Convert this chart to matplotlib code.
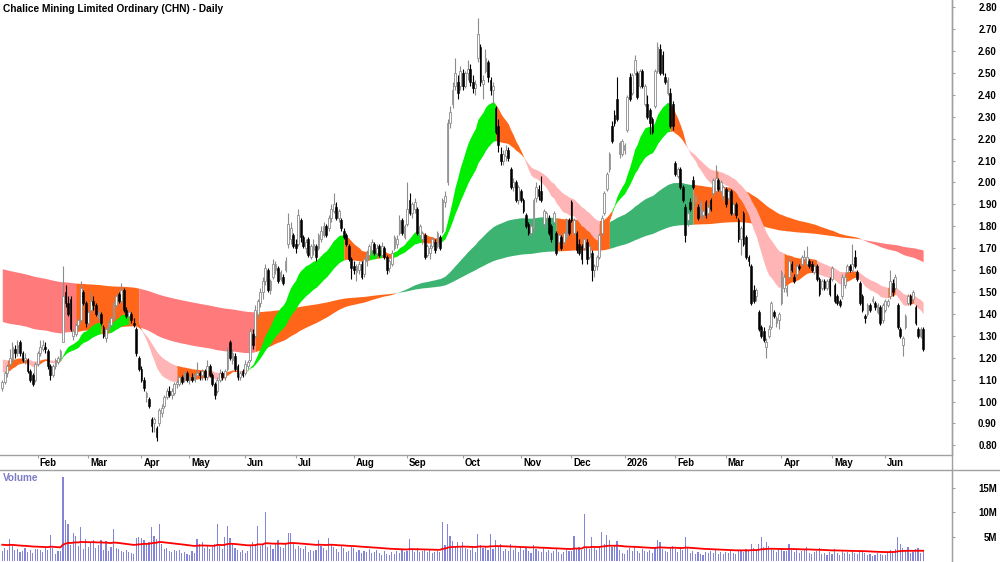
import numpy as np
import pandas as pd
import matplotlib
matplotlib.use('Agg')
import matplotlib.pyplot as plt
from matplotlib.lines import Line2D

plt.rcParams['font.family'] = ['Liberation Sans', 'DejaVu Sans']

TITLE = 'Chalice Mining Limited Ordinary (CHN) - Daily'
START = '2025-01-13'
ASX_HOLIDAYS = ['2025-01-27', '2025-04-18', '2025-04-21', '2025-04-25', '2025-06-09',
                '2025-12-25', '2025-12-26', '2026-01-01', '2026-01-26', '2026-04-03',
                '2026-04-06', '2026-06-08']

# one row per trading day: (open, high, low, close, volume in millions)
jan25 = [(1.06, 1.10, 1.05, 1.09, 2.1), (1.09, 1.14, 1.08, 1.13, 2.6), (1.13, 1.17, 1.11, 1.16, 2.3),
         (1.17, 1.24, 1.16, 1.20, 4.6), (1.19, 1.27, 1.18, 1.25, 3.0), (1.24, 1.26, 1.20, 1.22, 2.2),
         (1.22, 1.28, 1.21, 1.26, 2.5), (1.27, 1.28, 1.21, 1.22, 1.8), (1.22, 1.23, 1.18, 1.19, 2.0),
         (1.19, 1.22, 1.17, 1.20, 2.7), (1.19, 1.20, 1.13, 1.14, 1.9), (1.14, 1.15, 1.09, 1.10, 2.2),
         (1.12, 1.13, 1.07, 1.08, 1.7), (1.10, 1.18, 1.09, 1.17, 2.4)]
feb25 = [(1.17, 1.23, 1.16, 1.22, 2.5), (1.22, 1.28, 1.21, 1.25, 2.2), (1.24, 1.28, 1.23, 1.26, 1.9),
         (1.25, 1.27, 1.22, 1.24, 2.8), (1.23, 1.24, 1.15, 1.16, 2.3), (1.16, 1.17, 1.10, 1.12, 5.3),
         (1.12, 1.17, 1.11, 1.16, 2.6), (1.16, 1.20, 1.15, 1.19, 1.5), (1.18, 1.21, 1.17, 1.20, 2.1),
         (1.20, 1.24, 1.19, 1.23, 2.0), (1.27, 1.62, 1.27, 1.48, 17.2), (1.50, 1.53, 1.43, 1.45, 8.4),
         (1.45, 1.48, 1.39, 1.40, 7.6), (1.47, 1.48, 1.32, 1.33, 3.2), (1.30, 1.33, 1.28, 1.32, 5.7),
         (1.31, 1.36, 1.30, 1.35, 5.2), (1.35, 1.38, 1.33, 1.37, 3.0), (1.37, 1.55, 1.36, 1.52, 7.1),
         (1.50, 1.51, 1.44, 1.45, 2.5), (1.45, 1.46, 1.34, 1.36, 4.6)]
mar25 = [(1.36, 1.42, 1.35, 1.41, 2.9), (1.42, 1.50, 1.41, 1.46, 3.8), (1.46, 1.48, 1.42, 1.44, 4.4),
         (1.44, 1.45, 1.39, 1.40, 2.7), (1.38, 1.42, 1.37, 1.41, 3.3), (1.40, 1.41, 1.35, 1.36, 4.4),
         (1.34, 1.35, 1.29, 1.30, 2.3), (1.29, 1.34, 1.27, 1.33, 4.2), (1.33, 1.37, 1.32, 1.36, 2.0),
         (1.35, 1.39, 1.34, 1.38, 2.9), (1.38, 1.46, 1.37, 1.45, 6.5), (1.44, 1.49, 1.43, 1.48, 2.7),
         (1.49, 1.50, 1.45, 1.46, 2.5), (1.46, 1.54, 1.45, 1.51, 2.1), (1.51, 1.52, 1.41, 1.42, 1.9),
         (1.42, 1.43, 1.38, 1.39, 2.3), (1.39, 1.42, 1.38, 1.41, 1.8), (1.40, 1.41, 1.36, 1.37, 1.6),
         (1.36, 1.38, 1.34, 1.35, 1.4), (1.33, 1.34, 1.21, 1.22, 4.8), (1.20, 1.21, 1.14, 1.15, 5.0)]
apr25 = [(1.15, 1.16, 1.09, 1.10, 4.8), (1.10, 1.11, 1.05, 1.06, 4.4), (1.02, 1.05, 1.00, 1.04, 3.5),
         (1.01, 1.02, 0.97, 0.98, 3.9), (0.92, 0.93, 0.86, 0.89, 6.9), (0.90, 0.93, 0.86, 0.92, 5.2),
         (0.88, 0.89, 0.82, 0.84, 4.6), (0.90, 0.97, 0.89, 0.96, 7.6), (0.95, 0.99, 0.93, 0.97, 3.4),
         (0.98, 1.03, 0.97, 1.02, 2.4), (1.02, 1.06, 1.01, 1.05, 2.7), (1.05, 1.07, 1.02, 1.03, 2.1),
         (1.03, 1.06, 1.01, 1.05, 1.9), (1.04, 1.09, 1.03, 1.08, 2.3), (1.08, 1.10, 1.06, 1.09, 2.0),
         (1.08, 1.12, 1.07, 1.11, 2.2), (1.11, 1.12, 1.08, 1.09, 1.7), (1.10, 1.14, 1.09, 1.13, 1.9),
         (1.13, 1.14, 1.09, 1.10, 1.5)]
may25 = [(1.10, 1.12, 1.08, 1.11, 1.3), (1.11, 1.13, 1.09, 1.10, 2.0), (1.10, 1.13, 1.09, 1.12, 1.6),
         (1.12, 1.18, 1.11, 1.13, 4.6), (1.13, 1.14, 1.10, 1.12, 3.6), (1.12, 1.15, 1.10, 1.14, 3.9),
         (1.14, 1.15, 1.10, 1.11, 2.6), (1.11, 1.19, 1.10, 1.16, 3.1), (1.16, 1.17, 1.11, 1.12, 2.4),
         (1.12, 1.13, 1.07, 1.08, 2.8), (1.08, 1.09, 1.01, 1.03, 3.4), (1.05, 1.11, 1.04, 1.10, 7.6),
         (1.10, 1.15, 1.09, 1.13, 3.1), (1.13, 1.14, 1.10, 1.11, 2.4), (1.11, 1.15, 1.10, 1.14, 5.0),
         (1.15, 1.25, 1.14, 1.23, 7.3), (1.27, 1.28, 1.19, 1.20, 4.7), (1.19, 1.24, 1.17, 1.22, 3.4),
         (1.21, 1.22, 1.14, 1.15, 2.6), (1.16, 1.17, 1.10, 1.11, 2.2), (1.11, 1.14, 1.10, 1.13, 1.9),
         (1.14, 1.15, 1.11, 1.12, 2.3)]
jun25 = [(1.13, 1.19, 1.12, 1.17, 1.7), (1.16, 1.19, 1.15, 1.18, 2.1), (1.19, 1.34, 1.18, 1.32, 3.1),
         (1.31, 1.33, 1.24, 1.26, 4.0), (1.30, 1.44, 1.29, 1.42, 3.5), (1.40, 1.47, 1.38, 1.46, 7.3),
         (1.45, 1.52, 1.43, 1.50, 3.0), (1.50, 1.57, 1.47, 1.55, 3.5), (1.55, 1.63, 1.53, 1.61, 10.0),
         (1.60, 1.61, 1.50, 1.51, 2.9), (1.51, 1.56, 1.49, 1.55, 3.2), (1.57, 1.65, 1.56, 1.63, 2.4),
         (1.60, 1.64, 1.58, 1.63, 3.8), (1.61, 1.62, 1.54, 1.55, 4.3), (1.56, 1.60, 1.55, 1.59, 2.8),
         (1.57, 1.58, 1.53, 1.54, 2.6), (1.60, 1.66, 1.59, 1.64, 3.7), (1.72, 1.86, 1.70, 1.81, 5.8),
         (1.74, 1.82, 1.72, 1.79, 5.7), (1.76, 1.77, 1.70, 1.71, 3.4)]
jul25 = [(1.72, 1.74, 1.68, 1.70, 2.5), (1.72, 1.88, 1.71, 1.85, 3.0), (1.83, 1.84, 1.73, 1.75, 2.7),
         (1.75, 1.76, 1.70, 1.71, 2.5), (1.70, 1.74, 1.68, 1.73, 3.1), (1.74, 1.75, 1.66, 1.67, 1.8),
         (1.66, 1.72, 1.65, 1.71, 2.2), (1.69, 1.74, 1.67, 1.72, 2.0), (1.71, 1.72, 1.64, 1.66, 2.3),
         (1.70, 1.77, 1.69, 1.76, 4.3), (1.74, 1.80, 1.73, 1.78, 3.1), (1.76, 1.82, 1.75, 1.80, 2.7),
         (1.80, 1.81, 1.75, 1.76, 2.2), (1.79, 1.85, 1.78, 1.84, 4.8), (1.84, 1.90, 1.82, 1.88, 3.6),
         (1.87, 1.95, 1.86, 1.90, 2.9), (1.89, 1.91, 1.83, 1.84, 2.4), (1.84, 1.88, 1.82, 1.87, 1.9),
         (1.83, 1.84, 1.78, 1.79, 3.0), (1.78, 1.79, 1.74, 1.75, 2.6), (1.76, 1.77, 1.71, 1.72, 1.8),
         (1.71, 1.72, 1.64, 1.65, 2.1), (1.65, 1.66, 1.56, 1.61, 2.8)]
aug25 = [(1.62, 1.64, 1.58, 1.60, 2.6), (1.59, 1.63, 1.55, 1.62, 1.9), (1.60, 1.64, 1.58, 1.63, 2.2),
         (1.63, 1.64, 1.56, 1.57, 1.7), (1.58, 1.66, 1.57, 1.65, 2.0), (1.64, 1.69, 1.62, 1.68, 1.8),
         (1.67, 1.72, 1.65, 1.71, 2.4), (1.69, 1.74, 1.67, 1.73, 1.6), (1.72, 1.73, 1.67, 1.68, 1.9),
         (1.68, 1.72, 1.66, 1.70, 2.3), (1.71, 1.72, 1.66, 1.67, 1.7), (1.67, 1.73, 1.66, 1.71, 1.3),
         (1.70, 1.71, 1.65, 1.66, 2.1), (1.66, 1.67, 1.58, 1.60, 1.5), (1.61, 1.65, 1.59, 1.64, 1.2),
         (1.63, 1.69, 1.62, 1.68, 1.9), (1.70, 1.76, 1.69, 1.75, 1.4), (1.72, 1.76, 1.70, 1.74, 2.0),
         (1.77, 1.85, 1.76, 1.83, 1.6), (1.83, 1.84, 1.76, 1.77, 2.2), (1.75, 1.81, 1.74, 1.80, 1.8)]
sep25 = [(1.81, 2.00, 1.80, 1.88, 2.1), (1.92, 1.95, 1.85, 1.86, 4.5), (1.86, 1.91, 1.84, 1.90, 2.3),
         (1.88, 1.93, 1.86, 1.91, 1.9), (1.88, 1.89, 1.76, 1.77, 2.7), (1.76, 1.81, 1.74, 1.80, 1.8),
         (1.74, 1.78, 1.72, 1.77, 2.0), (1.76, 1.77, 1.65, 1.66, 2.5), (1.67, 1.72, 1.66, 1.71, 1.8),
         (1.68, 1.72, 1.65, 1.70, 2.2), (1.71, 1.75, 1.70, 1.74, 1.7), (1.73, 1.74, 1.68, 1.69, 1.9),
         (1.71, 1.78, 1.70, 1.77, 2.0), (1.75, 1.76, 1.69, 1.70, 1.9), (1.78, 1.93, 1.77, 1.92, 8.0),
         (1.91, 1.96, 1.89, 1.94, 3.2), (2.00, 2.29, 1.99, 2.27, 7.6), (2.27, 2.35, 2.25, 2.32, 5.2),
         (2.36, 2.46, 2.34, 2.42, 4.2), (2.44, 2.57, 2.42, 2.50, 3.1), (2.46, 2.49, 2.38, 2.41, 4.0),
         (2.44, 2.53, 2.42, 2.51, 2.6)]
oct25 = [(2.50, 2.52, 2.42, 2.44, 4.0), (2.44, 2.51, 2.43, 2.50, 2.7), (2.50, 2.56, 2.47, 2.52, 2.4),
         (2.52, 2.54, 2.44, 2.46, 2.2), (2.46, 2.49, 2.41, 2.43, 2.8), (2.43, 2.47, 2.40, 2.45, 1.9),
         (2.57, 2.75, 2.55, 2.68, 5.6), (2.62, 2.63, 2.44, 2.46, 3.3), (2.45, 2.49, 2.38, 2.47, 2.6),
         (2.51, 2.61, 2.50, 2.57, 3.0), (2.55, 2.56, 2.46, 2.48, 2.2), (2.47, 2.48, 2.40, 2.42, 5.6),
         (2.42, 2.46, 2.36, 2.44, 2.4), (2.34, 2.35, 2.22, 2.23, 4.3), (2.26, 2.29, 2.14, 2.17, 3.0),
         (2.13, 2.16, 2.08, 2.10, 3.5), (2.10, 2.15, 2.08, 2.13, 2.1), (2.12, 2.17, 2.10, 2.15, 2.5),
         (2.15, 2.16, 2.10, 2.11, 2.0), (2.06, 2.07, 1.97, 1.98, 3.4), (1.98, 2.02, 1.96, 2.00, 2.2),
         (2.00, 2.01, 1.91, 1.92, 2.6), (1.92, 1.99, 1.90, 1.98, 1.8)]
nov25 = [(1.96, 1.97, 1.91, 1.92, 2.9), (1.92, 1.93, 1.86, 1.87, 2.3), (1.85, 1.86, 1.79, 1.80, 2.6),
         (1.81, 1.82, 1.76, 1.77, 2.0), (1.77, 1.81, 1.75, 1.80, 1.7), (1.79, 1.93, 1.78, 1.92, 3.3),
         (1.93, 2.00, 1.91, 1.98, 2.5), (1.97, 1.99, 1.92, 1.94, 2.1), (1.96, 2.03, 1.91, 1.92, 1.8),
         (1.81, 1.88, 1.79, 1.87, 2.7), (1.84, 1.87, 1.82, 1.86, 1.9), (1.84, 1.85, 1.76, 1.77, 2.2),
         (1.80, 1.81, 1.73, 1.74, 1.6), (1.82, 1.87, 1.81, 1.86, 2.0), (1.77, 1.78, 1.67, 1.68, 2.4),
         (1.73, 1.77, 1.72, 1.76, 1.8), (1.75, 1.76, 1.69, 1.70, 1.5), (1.73, 1.78, 1.72, 1.77, 1.9),
         (1.75, 1.84, 1.74, 1.83, 2.3), (1.83, 1.84, 1.76, 1.77, 2.1)]
dec25 = [(1.91, 1.92, 1.82, 1.83, 2.0), (1.77, 1.84, 1.76, 1.83, 5.1), (1.77, 1.78, 1.68, 1.69, 2.6),
         (1.72, 1.74, 1.67, 1.68, 2.9), (1.71, 1.72, 1.63, 1.65, 2.2), (1.70, 1.75, 1.69, 1.74, 9.6),
         (1.73, 1.74, 1.63, 1.65, 2.7), (1.66, 1.72, 1.65, 1.71, 2.4), (1.68, 1.69, 1.55, 1.60, 4.9),
         (1.60, 1.63, 1.57, 1.62, 2.6), (1.62, 1.67, 1.60, 1.66, 2.3), (1.66, 1.77, 1.65, 1.76, 3.1),
         (1.77, 1.85, 1.76, 1.84, 5.9), (1.86, 1.96, 1.85, 1.95, 3.4), (1.97, 2.05, 1.96, 2.04, 5.4),
         (2.06, 2.14, 2.05, 2.13, 4.3), (2.26, 2.28, 2.18, 2.19, 2.8), (2.31, 2.33, 2.26, 2.27, 3.0),
         (2.38, 2.48, 2.28, 2.29, 4.1), (2.13, 2.19, 2.11, 2.18, 2.2), (2.13, 2.20, 2.12, 2.19, 1.6)]
jan26 = [(2.15, 2.18, 2.13, 2.17, 1.4), (2.24, 2.40, 2.23, 2.39, 2.3), (2.48, 2.50, 2.37, 2.38, 2.6),
         (2.41, 2.50, 2.40, 2.49, 2.0), (2.50, 2.58, 2.49, 2.56, 2.8), (2.50, 2.51, 2.38, 2.39, 2.1),
         (2.44, 2.52, 2.43, 2.51, 1.7), (2.51, 2.52, 2.43, 2.44, 2.4), (2.36, 2.45, 2.35, 2.44, 2.0),
         (2.36, 2.40, 2.29, 2.30, 1.8), (2.33, 2.34, 2.22, 2.27, 2.3), (2.29, 2.30, 2.22, 2.23, 1.6),
         (2.35, 2.52, 2.34, 2.51, 2.9), (2.51, 2.64, 2.50, 2.62, 4.3), (2.61, 2.63, 2.49, 2.50, 3.9),
         (2.58, 2.60, 2.49, 2.50, 2.4), (2.48, 2.50, 2.45, 2.46, 2.0), (2.41, 2.48, 2.40, 2.47, 1.9),
         (2.41, 2.43, 2.25, 2.26, 2.8), (2.36, 2.37, 2.24, 2.26, 3.0)]
feb26 = [(2.09, 2.10, 2.03, 2.04, 2.5), (2.03, 2.07, 2.02, 2.06, 1.8), (2.06, 2.07, 1.97, 1.98, 2.6),
         (1.98, 1.99, 1.91, 1.92, 2.2), (1.89, 1.90, 1.73, 1.76, 4.9), (1.83, 1.87, 1.80, 1.86, 2.7),
         (1.91, 1.93, 1.87, 1.88, 1.6), (2.01, 2.03, 1.97, 1.98, 2.1), (1.91, 1.95, 1.89, 1.94, 1.4),
         (1.89, 1.90, 1.83, 1.84, 1.8), (1.85, 1.92, 1.84, 1.91, 1.5), (1.85, 1.88, 1.83, 1.87, 1.3),
         (1.91, 1.92, 1.84, 1.85, 1.9), (1.86, 1.90, 1.85, 1.89, 1.6), (1.92, 1.93, 1.87, 1.88, 2.0),
         (1.95, 2.02, 1.94, 2.01, 1.7), (1.96, 2.08, 1.95, 2.02, 2.2), (2.01, 2.02, 1.96, 1.97, 1.5),
         (1.96, 2.01, 1.95, 2.00, 1.8), (1.94, 1.99, 1.92, 1.98, 1.4)]
mar26 = [(1.97, 1.98, 1.89, 1.90, 1.9), (1.93, 1.97, 1.92, 1.96, 1.6), (1.96, 1.97, 1.85, 1.86, 2.0),
         (1.86, 1.91, 1.85, 1.90, 1.7), (1.90, 1.91, 1.84, 1.85, 1.5), (1.83, 1.84, 1.73, 1.74, 2.3),
         (1.74, 1.80, 1.67, 1.79, 2.1), (1.86, 1.87, 1.71, 1.72, 1.8), (1.75, 1.76, 1.65, 1.66, 2.4),
         (1.66, 1.67, 1.62, 1.64, 2.2), (1.62, 1.63, 1.44, 1.45, 3.4), (1.51, 1.53, 1.45, 1.46, 2.6),
         (1.48, 1.52, 1.46, 1.51, 2.3), (1.41, 1.42, 1.32, 1.33, 3.6), (1.34, 1.35, 1.29, 1.30, 5.0),
         (1.32, 1.34, 1.27, 1.28, 2.9), (1.25, 1.29, 1.20, 1.27, 4.0), (1.30, 1.35, 1.29, 1.33, 3.1),
         (1.34, 1.46, 1.33, 1.45, 2.7), (1.41, 1.42, 1.38, 1.39, 2.2), (1.36, 1.39, 1.34, 1.38, 1.8),
         (1.37, 1.41, 1.33, 1.40, 2.4)]
apr26 = [(1.45, 1.60, 1.44, 1.59, 2.6), (1.52, 1.58, 1.50, 1.57, 2.1), (1.50, 1.53, 1.48, 1.52, 2.0),
         (1.57, 1.66, 1.56, 1.64, 3.5), (1.63, 1.64, 1.59, 1.60, 2.3), (1.57, 1.58, 1.54, 1.55, 1.8),
         (1.58, 1.63, 1.57, 1.62, 2.2), (1.62, 1.63, 1.60, 1.61, 1.6), (1.63, 1.67, 1.62, 1.66, 2.0),
         (1.65, 1.69, 1.64, 1.66, 2.4), (1.63, 1.71, 1.62, 1.66, 2.8), (1.64, 1.65, 1.61, 1.62, 1.7),
         (1.63, 1.64, 1.59, 1.60, 1.5), (1.59, 1.63, 1.58, 1.62, 1.9), (1.62, 1.63, 1.55, 1.56, 2.1),
         (1.56, 1.57, 1.48, 1.49, 2.6), (1.52, 1.56, 1.51, 1.55, 1.4), (1.55, 1.56, 1.51, 1.52, 1.6),
         (1.52, 1.56, 1.51, 1.55, 1.2), (1.56, 1.57, 1.48, 1.49, 1.8)]
may26 = [(1.56, 1.62, 1.55, 1.61, 1.5), (1.53, 1.54, 1.45, 1.46, 2.4), (1.48, 1.49, 1.44, 1.45, 1.7),
         (1.46, 1.47, 1.43, 1.44, 1.3), (1.48, 1.58, 1.47, 1.57, 2.0), (1.53, 1.58, 1.52, 1.57, 1.6),
         (1.59, 1.63, 1.58, 1.62, 1.8), (1.62, 1.63, 1.59, 1.60, 1.4), (1.60, 1.72, 1.59, 1.63, 2.2),
         (1.66, 1.69, 1.61, 1.62, 1.7), (1.59, 1.60, 1.55, 1.56, 1.5), (1.54, 1.55, 1.44, 1.45, 2.3),
         (1.48, 1.49, 1.41, 1.42, 1.9), (1.39, 1.40, 1.36, 1.38, 1.6), (1.40, 1.45, 1.39, 1.44, 1.2),
         (1.44, 1.45, 1.41, 1.42, 1.5), (1.46, 1.48, 1.45, 1.47, 1.1), (1.45, 1.46, 1.42, 1.43, 1.3),
         (1.41, 1.45, 1.40, 1.44, 1.6), (1.43, 1.44, 1.35, 1.36, 1.4), (1.37, 1.45, 1.36, 1.44, 1.2)]
jun26 = [(1.42, 1.47, 1.41, 1.46, 1.3), (1.44, 1.47, 1.43, 1.46, 1.8), (1.48, 1.60, 1.47, 1.55, 2.2),
         (1.54, 1.56, 1.48, 1.50, 1.9), (1.52, 1.58, 1.51, 1.57, 2.4), (1.44, 1.45, 1.33, 1.34, 4.9),
         (1.33, 1.34, 1.29, 1.30, 3.6), (1.26, 1.30, 1.21, 1.29, 2.6), (1.34, 1.40, 1.33, 1.39, 2.3),
         (1.45, 1.49, 1.44, 1.48, 2.8), (1.48, 1.49, 1.44, 1.45, 1.7), (1.47, 1.51, 1.45, 1.50, 1.9),
         (1.43, 1.44, 1.35, 1.36, 2.5), (1.33, 1.34, 1.29, 1.30, 2.7), (1.30, 1.34, 1.29, 1.33, 1.6),
         (1.33, 1.34, 1.23, 1.24, 2.2)]

months = [jan25, feb25, mar25, apr25, may25, jun25, jul25, aug25, sep25, oct25, nov25, dec25,
          jan26, feb26, mar26, apr26, may26, jun26]

# moving average ribbons: EMA spans (fast, slow) and their values on the first day of the chart
SHORT_SPANS = (20, 40)
SHORT_START = (1.14, 1.20)
SHORT_SLOPE_DAYS = 3
LONG_SPANS = (130, 300)
LONG_START = (1.37, 1.61)
LONG_SLOPE_DAYS = 10
VOL_SPAN = 50
VOL_START = 3.4

SHORT_COLORS = ['#00ee00', '#ff661a', '#ffb5b5']
LONG_COLORS = ['#3cb371', '#ff661a', '#ff7b7b']
GRID_GREY = '#a0a0a0'


def ema(values, span, start):
    a = 2.0 / (span + 1)
    out = np.empty(len(values))
    prev = start
    for i, v in enumerate(values):
        prev = prev + a * (v - prev)
        out[i] = prev
    return out


def slope(values, start, k):
    ext = np.r_[[start] * k, values]
    return ext[k:] - ext[:-k]


def draw_ribbon(ax, x, fast, slow, start, k, colors, z):
    # green: fast above slow and both rising, pink: fast below and both falling, else orange
    d_fast = slope(fast, start[0], k)
    d_slow = slope(slow, start[1], k)
    up = (fast > slow) & (d_fast > 0) & (d_slow > 0)
    down = (fast < slow) & (d_fast < 0) & (d_slow < 0)
    state = np.where(up, 0, np.where(down, 2, 1))
    lo_edge = np.minimum(fast, slow)
    hi_edge = np.maximum(fast, slow)
    breaks = np.flatnonzero(np.diff(state)) + 1
    starts = np.r_[0, breaks]
    ends = np.r_[breaks, len(x)]
    for s, e in zip(starts, ends):
        s0 = max(s - 1, 0)
        ax.fill_between(x[s0:e], lo_edge[s0:e], hi_edge[s0:e], color=colors[state[s]],
                        lw=0, zorder=z)


rows = np.array([r for m in months for r in m])
op, hi, lo, cl, vol = rows.T
n = len(cl)
x = np.arange(n)
dates = pd.bdate_range(START, periods=n, freq='C', holidays=ASX_HOLIDAYS)

fig = plt.figure(figsize=(10, 5.62), dpi=100)
ax = fig.add_axes([0, 1 - 455 / 562, 0.9517, 455 / 562])
vax = fig.add_axes([0, 0, 0.9517, 92 / 562])

# ribbons under the candles
draw_ribbon(ax, x, ema(cl, LONG_SPANS[0], LONG_START[0]), ema(cl, LONG_SPANS[1], LONG_START[1]),
            LONG_START, LONG_SLOPE_DAYS, LONG_COLORS, 1)
draw_ribbon(ax, x, ema(cl, SHORT_SPANS[0], SHORT_START[0]), ema(cl, SHORT_SPANS[1], SHORT_START[1]),
            SHORT_START, SHORT_SLOPE_DAYS, SHORT_COLORS, 2)

# candles
up = cl >= op
dn = ~up
ax.vlines(x[up], lo[up], hi[up], color='#8c8c8c', lw=0.8, zorder=3)
ax.vlines(x[dn], lo[dn], hi[dn], color='black', lw=0.8, zorder=3)
ax.bar(x[up], np.maximum(cl - op, 0.004)[up], bottom=op[up], width=0.7, color='white',
       edgecolor='#8c8c8c', lw=0.6, zorder=4)
ax.bar(x[dn], (op - cl)[dn], bottom=cl[dn], width=0.7, color='black', edgecolor='black',
       lw=0.4, zorder=4)

ax.set_xlim(-0.9, 375.3)
ax.set_ylim(0.756, 2.833)
ax.yaxis.tick_right()
ax.set_yticks(np.arange(0.8, 2.81, 0.1))
ax.set_yticklabels(['%.2f' % v for v in np.arange(0.8, 2.81, 0.1)])
ax.tick_params(axis='y', direction='out', length=2, width=0.8, color=GRID_GREY,
               labelsize=6.9, pad=30.5)
for lbl in ax.get_yticklabels():
    lbl.set_horizontalalignment('right')
    lbl.set_fontweight('bold')

# month ticks along the strip under the price panel
month_start = [i for i in range(1, n) if dates[i].month != dates[i - 1].month]
month_names = [str(dates[i].year) if dates[i].month == 1 else dates[i].strftime('%b')
               for i in month_start]
ax.set_xticks(month_start)
ax.tick_params(axis='x', direction='out', length=2.5, width=0.8, color=GRID_GREY,
               labelbottom=False)
for pos, name in zip(month_start, month_names):
    ax.annotate(name, xy=(pos, 0), xycoords=('data', 'axes fraction'), xytext=(1.5, -2.2),
                textcoords='offset points', ha='left', va='top', fontsize=6.9,
                fontweight='bold')

for side in ['top', 'left']:
    ax.spines[side].set_visible(False)
for side in ['bottom', 'right']:
    ax.spines[side].set_color(GRID_GREY)
    ax.spines[side].set_linewidth(1.0)

# volume panel
vax.bar(x, vol, width=0.45, color='#8484d8', lw=0, zorder=2)
vax.plot(x, ema(vol, VOL_SPAN, VOL_START), color='#ff0000', lw=1.3, zorder=3)
vax.set_xlim(-0.9, 375.3)
vax.set_ylim(-0.2, 18.72)
vax.yaxis.tick_right()
vax.set_yticks([5, 10, 15])
vax.set_yticklabels(['5M', '10M', '15M'])
vax.tick_params(axis='y', direction='out', length=2, width=0.8, color=GRID_GREY,
                labelsize=6.9, pad=30.5)
for lbl in vax.get_yticklabels():
    lbl.set_horizontalalignment('right')
    lbl.set_fontweight('bold')
vax.set_xticks([])
for side in ['top', 'left', 'bottom']:
    vax.spines[side].set_visible(False)
vax.spines['right'].set_color(GRID_GREY)

fig.add_artist(Line2D([0.9517, 0.9517], [0, 1], color=GRID_GREY, lw=1.0))
fig.add_artist(Line2D([0, 1], [1 - 469.5 / 562, 1 - 469.5 / 562], color=GRID_GREY, lw=1.0))

fig.text(0.003, 1 - 8.5 / 562, TITLE, fontsize=7.3, fontweight='bold', va='center', ha='left')
fig.text(0.003, 1 - 478 / 562, 'Volume', fontsize=7.2, fontweight='bold', color='#7c7cc6',
         va='center', ha='left')

fig.savefig('out.png', dpi=100)
